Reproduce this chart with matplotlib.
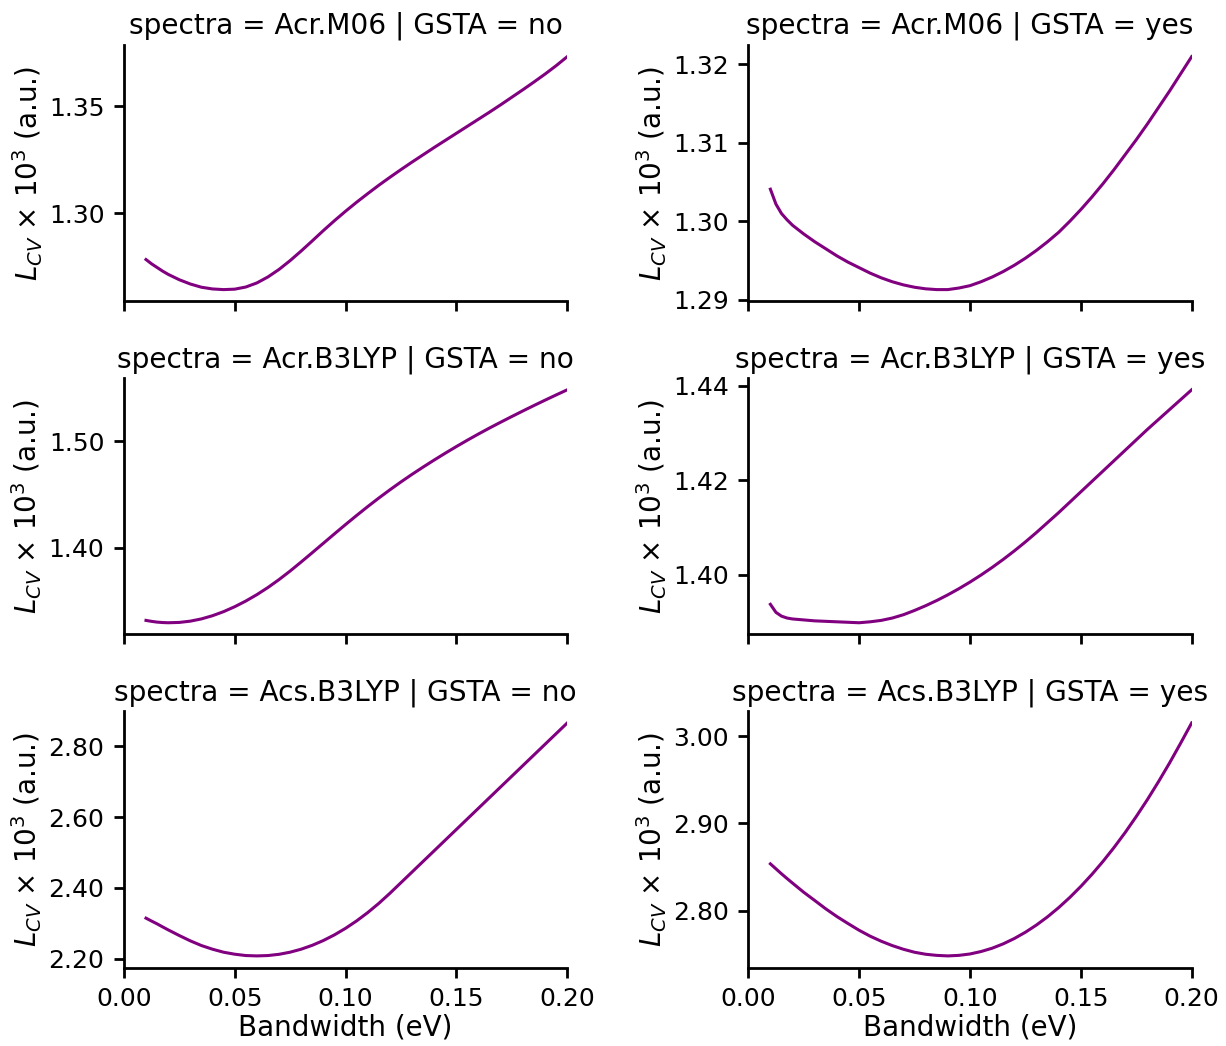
import matplotlib
matplotlib.use("Agg")
import matplotlib.pyplot as plt
from matplotlib.ticker import MultipleLocator, FormatStrFormatter

bandwidth = [0.010, 0.0125, 0.015, 0.0175, 0.020, 0.025, 0.030, 0.035, 0.040, 0.045,
             0.050, 0.055, 0.060, 0.065, 0.070, 0.075, 0.080, 0.085, 0.090, 0.095,
             0.100, 0.105, 0.110, 0.115, 0.120, 0.125, 0.130, 0.135, 0.140, 0.145,
             0.150, 0.155, 0.160, 0.165, 0.170, 0.175, 0.180, 0.185, 0.190, 0.195, 0.200]

acr_m06_no = [1.2785, 1.2765, 1.2748, 1.2731, 1.2716, 1.2691, 1.2671, 1.2656, 1.2648, 1.2645,
              1.2647, 1.2657, 1.2676, 1.2704, 1.2739, 1.2780, 1.2825, 1.2872, 1.2920, 1.2966,
              1.3010, 1.3052, 1.3092, 1.3131, 1.3168, 1.3204, 1.3239, 1.3273, 1.3307, 1.3340,
              1.3373, 1.3406, 1.3439, 1.3472, 1.3506, 1.3541, 1.3576, 1.3612, 1.3649, 1.3688, 1.3730]
acr_m06_yes = [1.3041, 1.3022, 1.3010, 1.3002, 1.2995, 1.2984, 1.2974, 1.2965, 1.2956, 1.2948,
               1.2941, 1.2934, 1.2928, 1.2923, 1.2919, 1.2916, 1.2914, 1.2913, 1.2913, 1.2915,
               1.2918, 1.2923, 1.2929, 1.2936, 1.2944, 1.2953, 1.2963, 1.2974, 1.2986, 1.3000,
               1.3015, 1.3031, 1.3048, 1.3066, 1.3085, 1.3104, 1.3124, 1.3145, 1.3166, 1.3188, 1.3210]
acr_b3lyp_no = [1.3322, 1.3313, 1.3306, 1.3302, 1.3300, 1.3303, 1.3315, 1.3336, 1.3366, 1.3404,
                1.3450, 1.3503, 1.3563, 1.3630, 1.3704, 1.3784, 1.3869, 1.3956, 1.4044, 1.4132,
                1.4219, 1.4304, 1.4387, 1.4467, 1.4544, 1.4618, 1.4689, 1.4757, 1.4823, 1.4887,
                1.4949, 1.5009, 1.5067, 1.5123, 1.5177, 1.5230, 1.5282, 1.5333, 1.5383, 1.5432, 1.5480]
acr_b3lyp_yes = [1.3937, 1.3920, 1.3912, 1.3908, 1.3906, 1.3904, 1.3902, 1.3901, 1.3900, 1.3899,
                 1.3898, 1.3900, 1.3903, 1.3908, 1.3915, 1.3924, 1.3934, 1.3945, 1.3957, 1.3970,
                 1.3984, 1.3999, 1.4015, 1.4032, 1.4050, 1.4069, 1.4089, 1.4110, 1.4131, 1.4153,
                 1.4175, 1.4197, 1.4219, 1.4241, 1.4263, 1.4285, 1.4307, 1.4328, 1.4349, 1.4370, 1.4391]
acs_b3lyp_no = [2.3142, 2.3060, 2.2981, 2.2895, 2.2811, 2.2651, 2.2500, 2.2368, 2.2264, 2.2179,
                2.2123, 2.2085, 2.2075, 2.2085, 2.2120, 2.2180, 2.2265, 2.2375, 2.2510, 2.2670,
                2.2855, 2.3065, 2.3300, 2.3560, 2.3845, 2.4146, 2.4447, 2.4748, 2.5049, 2.5350,
                2.5651, 2.5952, 2.6253, 2.6554, 2.6855, 2.7156, 2.7457, 2.7758, 2.8059, 2.8360, 2.8661]
acs_b3lyp_yes = [2.8535, 2.8478, 2.8421, 2.8367, 2.8314, 2.8210, 2.8115, 2.8019, 2.7931, 2.7851,
                 2.7774, 2.7706, 2.7648, 2.7598, 2.7556, 2.7522, 2.7499, 2.7486, 2.7480, 2.7486,
                 2.7502, 2.7530, 2.7568, 2.7618, 2.7679, 2.7751, 2.7834, 2.7928, 2.8033, 2.8149,
                 2.8276, 2.8414, 2.8563, 2.8723, 2.8894, 2.9077, 2.9270, 2.9475, 2.9690, 2.9917, 3.0150]

spectra = ["Acr.M06", "Acr.B3LYP", "Acs.B3LYP"]
gsta = ["no", "yes"]
series = [[acr_m06_no, acr_m06_yes],
          [acr_b3lyp_no, acr_b3lyp_yes],
          [acs_b3lyp_no, acs_b3lyp_yes]]
ytick_steps = [[0.05, 0.01], [0.10, 0.02], [0.20, 0.10]]
xticks = [0.00, 0.05, 0.10, 0.15, 0.20]

plt.rcParams['font.family'] = ['DejaVu Sans']
plt.rcParams['font.size'] = 10
plt.rcParams['axes.linewidth'] = 1.0
plt.rcParams['xtick.major.width'] = 1.0
plt.rcParams['ytick.major.width'] = 1.0

fig, axes = plt.subplots(3, 2, figsize=(6.13, 5.23), dpi=200, sharex=True)
fig.subplots_adjust(left=0.101, right=0.972, bottom=0.075, top=0.957, wspace=0.408, hspace=0.30)

for i, sp in enumerate(spectra):
    for j, g in enumerate(gsta):
        ax = axes[i][j]
        ax.plot(bandwidth, series[i][j], color="purple", lw=1.1)
        ax.set_title(f"spectra = {sp} | GSTA = {g}", fontsize=10.1, pad=4)
        ax.spines['top'].set_visible(False)
        ax.spines['right'].set_visible(False)
        ax.yaxis.set_major_locator(MultipleLocator(ytick_steps[i][j]))
        ax.yaxis.set_major_formatter(FormatStrFormatter('%.2f'))
        ax.set_ylabel(r"$L_{CV}$ × 10$^3$ (a.u.)", fontsize=10, labelpad=1.5)
        ax.tick_params(labelsize=9)
        ax.set_xticks(xticks)
        ax.xaxis.set_major_formatter(FormatStrFormatter('%.2f'))
        ax.set_xlim(0.0, 0.2)
        if i == 2:
            ax.set_xlabel("Bandwidth (eV)", fontsize=10, labelpad=1)

fig.savefig("out.png", dpi=200)
